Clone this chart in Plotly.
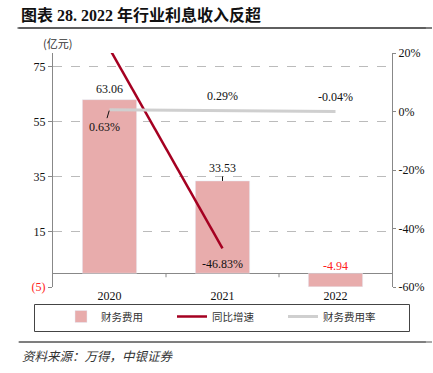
import plotly.graph_objects as go

# ---- data ----
years = ["2020", "2021", "2022"]
fin_cost = [63.06, 33.53, -4.94]          # 财务费用 (亿元)
yoy_growth = [21.5, -46.83, None]          # 同比增速 (%)
fin_cost_rate = [0.63, 0.29, -0.04]        # 财务费用率 (%)
left_ticks = [75, 55, 35, 15, -5]
left_ticktext = ["75", "55", "35", "15", "<span style='color:#FF2020'>(5)</span>"]
right_ticks = [20, 0, -20, -40, -60]
right_ticktext = ["20%", "0%", "-20%", "-40%", "-60%"]
left_range = [-5, 80]
right_range = [-60, 20]

W, H = 433, 373
L, R, T, B = 53, 41, 53, 86
PW, PH = W - L - R, H - T - B

def px(x):
    return (x - L) / PW

def py(y):
    return (H - B - y) / PH

SERIF = "Liberation Serif, Times New Roman, serif"
CJK = "Noto Sans CJK SC, sans-serif"
TITLEFONT = "Liberation Serif, Noto Sans CJK SC"

fig = go.Figure()
fig.add_trace(go.Bar(x=years, y=fin_cost, name="财务费用", marker_color="#E8ACAC",
                     width=0.48, yaxis="y"))
fig.add_trace(go.Scatter(x=years, y=yoy_growth, name="同比增速", mode="lines",
                         line=dict(color="#A50021", width=2.5), yaxis="y2",
                         connectgaps=False))
fig.add_trace(go.Scatter(x=years, y=fin_cost_rate, name="财务费用率", mode="lines",
                         line=dict(color="#CFCFCF", width=3), yaxis="y2"))

lab = dict(family=SERIF, size=12, color="#111")
ann = []
ann.append(dict(x=0, y=fin_cost[0], xref="x", yref="y", text=f"{fin_cost[0]:.2f}",
                showarrow=False, yshift=11, font=lab))
ann.append(dict(x=1, y=fin_cost[1], xref="x", yref="y", text=f"{fin_cost[1]:.2f}",
                showarrow=True, arrowhead=0, arrowwidth=1, arrowcolor="#111", ax=0, ay=-13,
                standoff=0, font=lab))
ann.append(dict(x=2, y=0, xref="x", yref="y", text=f"{fin_cost[2]:.2f}",
                showarrow=False, yshift=7, font=dict(family=SERIF, size=12, color="#FF2020")))
ann.append(dict(x=1, y=yoy_growth[1], xref="x", yref="y2", text=f"{yoy_growth[1]:.2f}%",
                showarrow=False, yshift=-16, font=lab))
ann.append(dict(x=0, y=fin_cost_rate[0], xref="x", yref="y2", text=f"{fin_cost_rate[0]:.2f}%",
                showarrow=True, arrowhead=0, arrowwidth=1, arrowcolor="#111", ax=-5, ay=17,
                standoff=1, font=lab))
for i in (1, 2):
    ann.append(dict(x=i, y=fin_cost_rate[i], xref="x", yref="y2", text=f"{fin_cost_rate[i]:.2f}%",
                    showarrow=False, yshift=15, font=lab))

ann.append(dict(xref="paper", yref="paper", x=px(19), y=py(15), xanchor="left", yanchor="middle",
                text="<b>图表 28. 2022 年行业利息收入反超</b>", showarrow=False,
                font=dict(family=TITLEFONT, size=16, color="#111")))
ann.append(dict(xref="paper", yref="paper", x=px(57), y=py(43), xanchor="center", yanchor="middle",
                text="(亿元)", showarrow=False, font=dict(family=CJK, size=11, color="#333")))
ann.append(dict(xref="paper", yref="paper", x=px(20), y=py(355), xanchor="left", yanchor="middle",
                text="<i>资料来源：万得，中银证券</i>", showarrow=False,
                font=dict(family=CJK, size=12.5, color="#333")))
# horizontal rules drawn as arrow-only annotations
for (xs, xe, yy, wd) in ((16, 432, 28, 1.5), (17, 432, 342, 1)):
    ann.append(dict(xref="paper", yref="paper", x=px(xe), y=py(yy), ax=-(xe - xs), ay=0,
                    text=" ", showarrow=True, arrowhead=0, arrowwidth=wd, arrowcolor="#555",
                    standoff=0, startstandoff=0, font=dict(size=1)))

shapes = []
shapes.append(dict(type="rect", xref="paper", yref="paper", x0=px(34.5), x1=px(409.5),
                   y0=py(304.5), y1=py(331.5), line=dict(color="#444", width=1)))
shapes.append(dict(type="line", xref="paper", yref="paper", x0=-0.1, x1=1.1,
                   y0=py(28), y1=py(28), line=dict(color="#555", width=1.5)))
shapes.append(dict(type="line", xref="paper", yref="paper", x0=-0.1, x1=1.1,
                   y0=py(342), y1=py(342), line=dict(color="#555", width=1)))
tick_len_units = 4 * (left_range[1] - left_range[0]) / PH
for b in (0.5, 1.5):
    shapes.append(dict(type="line", xref="x", yref="y", x0=b, x1=b,
                       y0=0, y1=-tick_len_units, line=dict(color="#888", width=1)))

fig.update_layout(
    width=W, height=H, autosize=False,
    margin=dict(l=L, r=R, t=T, b=B, pad=0, autoexpand=False),
    paper_bgcolor="white", plot_bgcolor="white",
    showlegend=True,
    legend=dict(orientation="h", xref="container", yref="container",
                x=61 / W, y=1 - 302 / H, xanchor="left", yanchor="top",
                entrywidth=66, entrywidthmode="pixels",
                font=dict(family=CJK, size=10.5, color="#333"),
                bgcolor="rgba(0,0,0,0)", itemclick=False),
    xaxis=dict(type="category", range=[-0.5, 2.5], showline=False, showgrid=False,
               ticks="", tickfont=dict(family=SERIF, size=12, color="#111"), zeroline=False),
    yaxis=dict(range=left_range, tickmode="array", tickvals=left_ticks, ticktext=left_ticktext,
               showgrid=True, gridcolor="#BBBBBB", griddash="dash", gridwidth=1,
               showline=True, linecolor="#888", linewidth=1,
               ticks="outside", ticklen=4, tickcolor="#888",
               zeroline=True, zerolinecolor="#888", zerolinewidth=1,
               tickfont=dict(family=SERIF, size=12, color="#111")),
    yaxis2=dict(range=right_range, tickmode="array", tickvals=right_ticks, ticktext=right_ticktext,
                overlaying="y", side="right", showgrid=False, zeroline=False,
                showline=True, linecolor="#888", linewidth=1,
                ticks="outside", ticklen=3, tickcolor="#888",
                tickfont=dict(family=SERIF, size=12, color="#111")),
    annotations=ann, shapes=shapes,
)

fig.write_html("out.html", config={"displayModeBar": False},
               post_script="document.body.style.margin='0';document.body.style.padding='0';")
